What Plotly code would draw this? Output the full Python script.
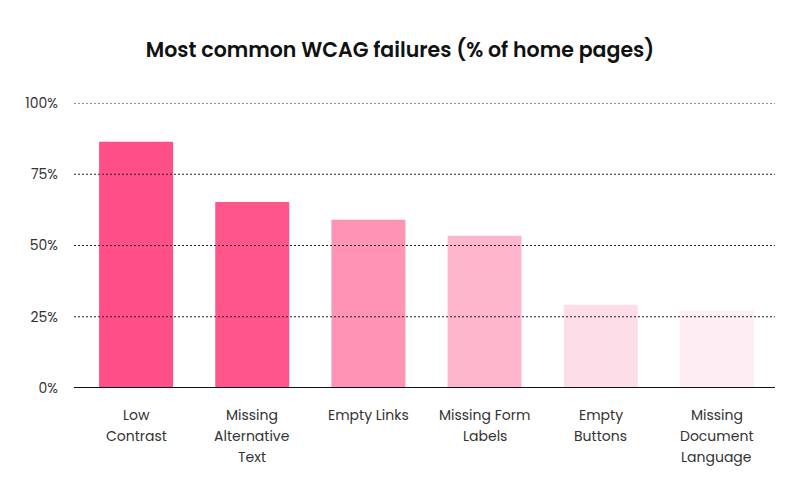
import plotly.graph_objects as go

categories = ["Low Contrast", "Missing Alternative Text", "Empty Links",
              "Missing Form Labels", "Empty Buttons", "Missing Document Language"]
label_lines = [["Low", "Contrast"], ["Missing", "Alternative", "Text"], ["Empty Links"],
               ["Missing Form", "Labels"], ["Empty", "Buttons"], ["Missing", "Document", "Language"]]
values = [86.4, 65.3, 59.0, 53.4, 29.2, 27.1]
colors = ["#FF4F86", "#FF558B", "#FF93B4", "#FFB6CD", "#FDDDE8", "#FFEDF4"]
tick_vals = [0, 25, 50, 75, 100]
tick_text = ["0%", "25%", "50%", "75%", "100%"]
title = "Most common WCAG failures (% of home pages)"

FONT = "Poppins, Inter, sans-serif"
GRID_X0 = -4 / 697

fig = go.Figure(go.Bar(
    x=categories, y=values, marker=dict(color=colors, line=dict(width=0)),
    hoverinfo="skip",
))

for v in tick_vals[1:]:
    fig.add_shape(type="line", xref="paper", yref="y", x0=GRID_X0, x1=1, y0=v, y1=v,
                  line=dict(color="#222222", width=1, dash="2px,2px"), layer="above")
fig.add_shape(type="line", xref="paper", yref="y", x0=GRID_X0, x1=1, y0=0, y1=0,
              line=dict(color="#111111", width=2), layer="above")

for cat, lines in zip(categories, label_lines):
    for i, line in enumerate(lines):
        fig.add_annotation(x=cat, xref="x", y=0, yref="paper", text=line,
                           showarrow=False, xanchor="center", yanchor="middle",
                           yshift=-27 - 21 * i,
                           font=dict(size=14, color="#333333", family=FONT))

fig.update_layout(
    width=800, height=489,
    paper_bgcolor="white", plot_bgcolor="white",
    margin=dict(l=70, r=33, t=95, b=109),
    bargap=0.363,
    showlegend=False,
    font=dict(family=FONT, color="#222222"),
    title=dict(text=title, x=0.49, xanchor="center", y=0.914, yanchor="middle",
               yref="container", font=dict(size=20.5, color="#111111", family=FONT, weight=600)),
    xaxis=dict(showgrid=False, showline=False, zeroline=False, ticks="", showticklabels=False),
    yaxis=dict(range=[0, 100], tickvals=tick_vals, ticktext=tick_text, showgrid=False,
               zeroline=False, showline=False, ticks="", tickfont=dict(size=14, color="#333333"),
               ticklabelstandoff=19),
)

fig.write_html("out.html")
